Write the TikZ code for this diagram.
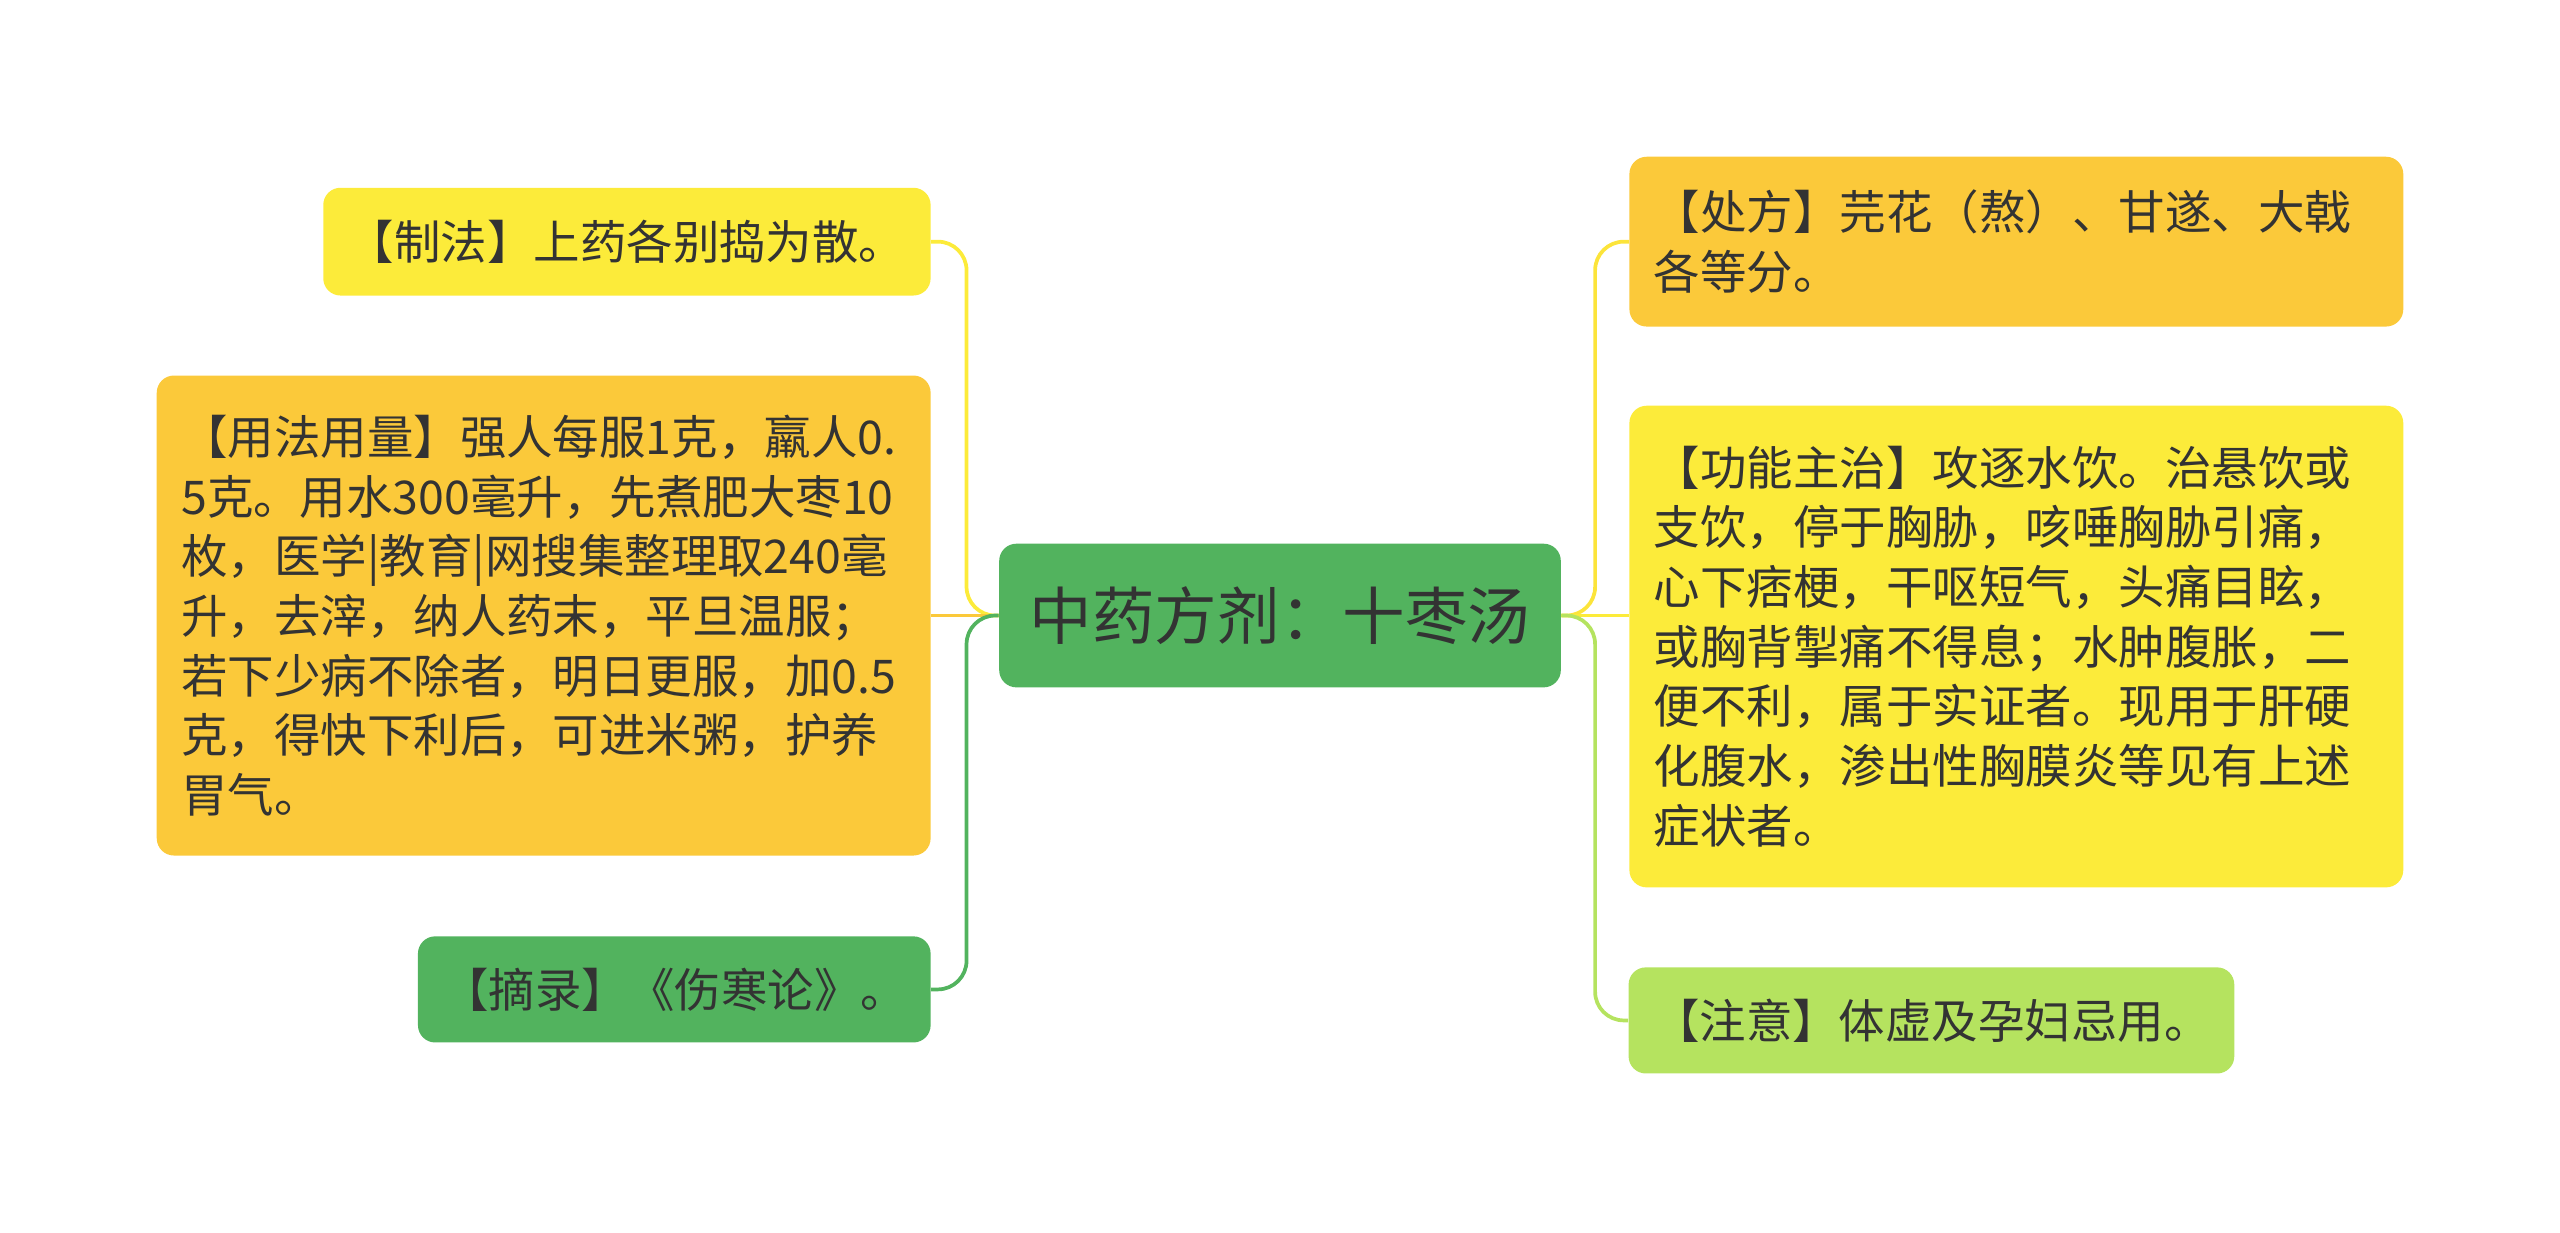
\documentclass[tikz,border=0pt]{standalone}
\usepackage{fontspec}
\setmainfont{Noto Sans CJK SC}
\definecolor{cgreen}{HTML}{52B35E}
\definecolor{cyel}{HTML}{FCEB3A}
\definecolor{corg}{HTML}{FBC93A}
\definecolor{clg}{HTML}{B5E35F}
\definecolor{ctxt}{HTML}{333333}
\tikzset{box/.style={rounded corners=6pt,inner sep=0pt,text=ctxt,font=\fontsize{16.2pt}{20.8pt}\selectfont,align=left},
conn/.style={line width=1.3pt,rounded corners=10pt}}
\begin{document}
\begin{tikzpicture}[x=0.02cm,y=-0.02cm]
\useasboundingbox (0,0) rectangle (1568,755);
\node[box,fill=cgreen,minimum width=344*0.02cm,minimum height=88*0.02cm,font=\fontsize{21.8pt}{26pt}\selectfont,align=center] (c) at (784,377) {中药方剂：十枣汤};
\node[box,fill=cyel,minimum width=372*0.02cm,minimum height=66*0.02cm,text width=372*0.02cm-0.6cm] (l1) at (384,148) {【制法】上药各别捣为散。};
\node[box,fill=corg,minimum width=474*0.02cm,minimum height=294*0.02cm,text width=474*0.02cm-0.6cm] (l2) at (333,377) {【用法用量】强人每服1克，羸人0.\\5克。用水300毫升，先煮肥大枣10\\枚，医学|教育|网搜集整理取240毫\\升，去滓，纳人药末，平旦温服；\\若下少病不除者，明日更服，加0.5\\克，得快下利后，可进米粥，护养\\胃气。};
\node[box,fill=cgreen,minimum width=314*0.02cm,minimum height=65*0.02cm,text width=314*0.02cm-0.6cm] (l3) at (413,606) {【摘录】《伤寒论》。};
\node[box,fill=corg,minimum width=474*0.02cm,minimum height=104*0.02cm,text width=474*0.02cm-0.6cm] (r1) at (1235,148) {【处方】芫花（熬）、甘遂、大戟\\各等分。};
\node[box,fill=cyel,minimum width=474*0.02cm,minimum height=295*0.02cm,text width=474*0.02cm-0.6cm] (r2) at (1235,396) {【功能主治】攻逐水饮。治悬饮或\\支饮，停于胸胁，咳唾胸胁引痛，\\心下痞梗，干呕短气，头痛目眩，\\或胸背掣痛不得息；水肿腹胀，二\\便不利，属于实证者。现用于肝硬\\化腹水，渗出性胸膜炎等见有上述\\症状者。};
\node[box,fill=clg,minimum width=371*0.02cm,minimum height=65*0.02cm,text width=371*0.02cm-0.6cm] (r3) at (1183,625) {【注意】体虚及孕妇忌用。};
\draw[conn,cyel] (c.west) -- (592,377) |- (l1.east);
\draw[conn,corg] (c.west) -- (l2.east);
\draw[conn,cgreen] (c.west) -- (592,377) |- (l3.east);
\draw[conn,cyel!80!corg] (c.east) -- (977,377) |- (r1.west);
\draw[conn,cyel] (c.east) -- (r2.west |- c.east);
\draw[conn,clg] (c.east) -- (977,377) |- (r3.west);
\end{tikzpicture}
\end{document}
